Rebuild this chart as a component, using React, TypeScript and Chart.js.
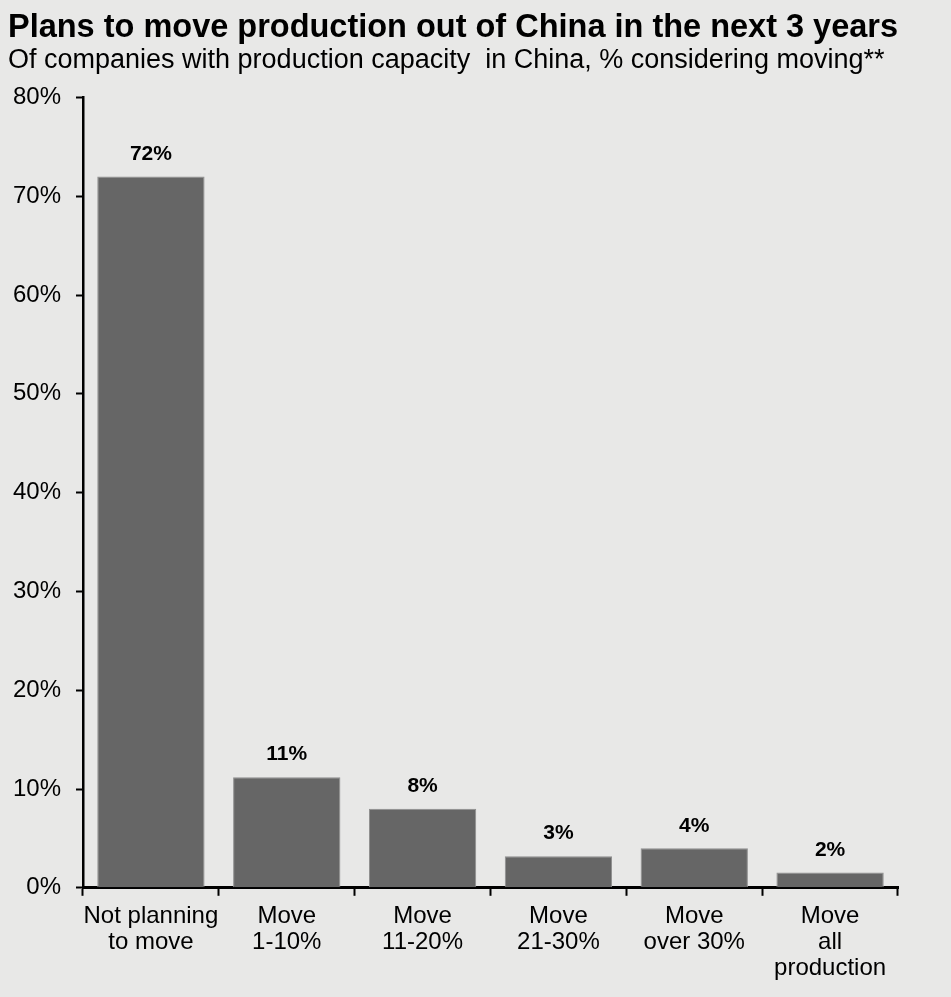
import React, { useEffect, useRef } from "react";
import { Chart, registerables } from "chart.js";

Chart.register(...registerables);

const categories: string[][] = [
  ["Not planning", "to move"],
  ["Move", "1-10%"],
  ["Move", "11-20%"],
  ["Move", "21-30%"],
  ["Move", "over 30%"],
  ["Move", "all", "production"],
];
const shares: number[] = [72, 11.2, 8, 3.2, 4, 1.55];
const yTicks: number[] = [0, 10, 20, 30, 40, 50, 60, 70, 80];

const titleText = "Plans to move production out of China in the next 3 years";
const subtitleText = "Of companies with production capacity  in China, % considering moving**";

const FONT = "'Liberation Sans', Arial, Helvetica, sans-serif";
const BG = "#e8e8e7";

const valueLabels = {
  id: "valueLabels",
  afterDatasetsDraw(chart: any) {
    const ctx = chart.ctx;
    const meta = chart.getDatasetMeta(0);
    const data = chart.data.datasets[0].data as number[];
    ctx.save();
    ctx.font = `bold 21px ${FONT}`;
    ctx.fillStyle = "#000";
    ctx.textAlign = "center";
    ctx.textBaseline = "middle";
    meta.data.forEach((bar: any, i: number) => {
      ctx.fillText(Math.round(data[i]) + "%", bar.x, bar.y - 22.5);
    });
    ctx.restore();
  },
};

const bgPlugin = {
  id: "bgFill",
  beforeDraw(chart: any) {
    const ctx = chart.ctx;
    ctx.save();
    ctx.fillStyle = BG;
    ctx.fillRect(0, 0, chart.width, chart.height);
    ctx.restore();
  },
};

export default function App() {
  const ref = useRef<HTMLCanvasElement | null>(null);
  useEffect(() => {
    document.body.style.margin = "0";
    document.body.style.background = BG;
    if (!ref.current) return;
    const chart = new Chart(ref.current, {
      type: "bar",
      data: {
        labels: categories,
        datasets: [
          {
            data: shares,
            backgroundColor: "#666666",
            borderColor: "#8e8e8e",
            borderWidth: 1,
            barPercentage: 0.79,
            categoryPercentage: 1,
          },
        ],
      },
      options: {
        responsive: false,
        animation: false,
        layout: { padding: { left: 8, right: 53, top: 0, bottom: 8 } },
        plugins: {
          legend: { display: false },
          tooltip: { enabled: false },
          title: {
            display: true,
            text: titleText,
            align: "start",
            color: "#000",
            font: { family: FONT, size: 32.5, weight: "bold", lineHeight: 1.1 },
            padding: { top: 10, bottom: 0 },
          },
          subtitle: {
            display: true,
            text: subtitleText,
            align: "start",
            color: "#000",
            font: { family: FONT, size: 27, lineHeight: 1.1 },
            padding: { top: 0, bottom: 22 },
          },
        },
        scales: {
          x: {
            afterFit(scale: any) {
              scale.paddingLeft = 0;
              scale.paddingRight = 0;
            },
            grid: {
              display: true,
              drawOnChartArea: false,
              drawTicks: true,
              tickLength: 8,
              tickWidth: 2,
              tickColor: "#000",
              offset: true,
            },
            border: { display: true, color: "#000", width: 3 },
            ticks: {
              color: "#000",
              font: { family: FONT, size: 24, lineHeight: 1.1 },
              padding: 7,
              maxRotation: 0,
              autoSkip: false,
            },
          },
          y: {
            min: 0,
            max: 80,
            afterBuildTicks(scale: any) {
              scale.ticks = yTicks.map((v) => ({ value: v }));
            },
            afterFit(scale: any) {
              scale.width = 75;
              scale.paddingTop = 0;
              scale.paddingBottom = 0;
            },
            grid: {
              display: true,
              drawOnChartArea: false,
              drawTicks: true,
              tickLength: 7,
              tickWidth: 2,
              tickColor: "#000",
            },
            border: { display: true, color: "#000", width: 2.5 },
            ticks: {
              color: "#000",
              font: { family: FONT, size: 24 },
              padding: 15,
              callback: (v: any) => v + "%",
            },
          },
        },
      },
      plugins: [bgPlugin, valueLabels],
    });
    return () => chart.destroy();
  }, []);
  return (
    <div style={{ width: 951, height: 997, background: BG }}>
      <canvas ref={ref} width={951} height={997} style={{ display: "block" }} />
    </div>
  );
}
